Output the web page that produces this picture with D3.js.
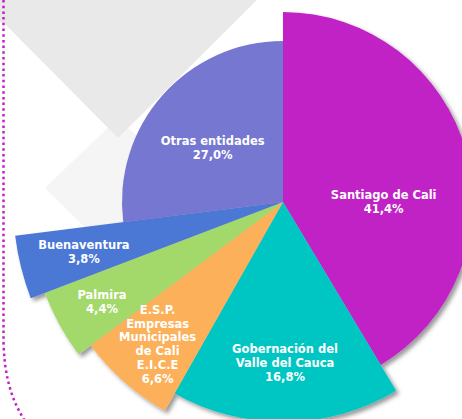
<!DOCTYPE html>
<html>
<head>
<meta charset="utf-8">
<script src="https://cdn.jsdelivr.net/npm/d3@7"></script>
<style>
  html, body { margin: 0; padding: 0; background: #fff; }
  #chart { width: 462px; height: 419px; overflow: hidden; }
</style>
</head>
<body>
<div id="chart"></div>
<script>
// slices, clockwise from 12 o'clock
const entities = [
  ['Santiago de Cali'],
  ['Gobernación del', 'Valle del Cauca'],
  ['E.S.P.', 'Empresas', 'Municipales', 'de Cali', 'E.I.C.E'],
  ['Palmira'],
  ['Buenaventura'],
  ['Otras entidades'],
];
const shares = [41.4, 16.8, 6.6, 4.4, 3.8, 27.0];
const shareLabels = ['41,4%', '16,8%', '6,6%', '4,4%', '3,8%', '27,0%'];
const colors = ['#c021c5', '#05c6c3', '#fdb05a', '#a3d96a', '#4c77d5', '#7677d1'];

// the designer stretched each slice to its own length
const outerR = [190, 220, 240, 255, 270, 161];
const labelFrac = [0.53, 0.73, 0.79, 0.81, 0.76, 0.55];
const labelNudge = [15.5, 0, 0, 0, 0, -4]; // degrees

const width = 462;
const height = 419;
const center = { x: 283, y: 202 };

const svg = d3.select('#chart')
  .append('svg')
  .attr('width', width)
  .attr('height', height);

// soft drop shadow under the slices
const defs = svg.append('defs');
const shadow = defs.append('filter')
  .attr('id', 'shadow')
  .attr('x', '-20%').attr('y', '-20%')
  .attr('width', '140%').attr('height', '140%');
shadow.append('feDropShadow')
  .attr('dx', 3).attr('dy', 3)
  .attr('stdDeviation', 2.2)
  .attr('flood-color', '#000')
  .attr('flood-opacity', 0.4);

// background decoration
const bg = svg.append('g');
bg.append('polygon')
  .attr('points', '45,188 118,118 190,188 118,260')
  .attr('fill', '#f5f5f5');
bg.append('polygon')
  .attr('points', '0,0 257,0 118,138 5,24 0,22')
  .attr('fill', '#e9e9e9');
bg.append('path')
  .attr('d', 'M3.5,0 V340 C4,372 10,398 25,421')
  .attr('fill', 'none')
  .attr('stroke', '#c21fc6')
  .attr('stroke-width', 2.5)
  .attr('stroke-dasharray', '2.5 3.2');

const pie = d3.pie().sort(null).value((d) => d)(shares);

const g = svg.append('g')
  .attr('transform', `translate(${center.x},${center.y})`);

g.append('g')
  .attr('filter', 'url(#shadow)')
  .selectAll('path')
  .data(pie)
  .enter()
  .append('path')
  .attr('d', (d, i) => d3.arc().innerRadius(0).outerRadius(outerR[i])(d))
  .attr('fill', (d, i) => colors[i]);

// labels
const labels = g.append('g')
  .attr('font-family', 'Verdana, "DejaVu Sans", sans-serif')
  .attr('font-weight', 'bold')
  .attr('font-size', 11.5)
  .attr('fill', '#fff')
  .attr('text-anchor', 'middle');

const lineH = 13.8;
pie.forEach((d, i) => {
  const a = (d.startAngle + d.endAngle) / 2 + (labelNudge[i] * Math.PI) / 180;
  const r = outerR[i] * labelFrac[i];
  const x = Math.sin(a) * r;
  const y = -Math.cos(a) * r;
  const lines = entities[i].concat([shareLabels[i]]);
  const y0 = y - ((lines.length - 1) * lineH) / 2;
  const t = labels.append('text');
  lines.forEach((s, k) => {
    t.append('tspan')
      .attr('x', x)
      .attr('y', y0 + k * lineH)
      .attr('dy', '0.36em')
      .text(s);
  });
});
</script>
</body>
</html>
